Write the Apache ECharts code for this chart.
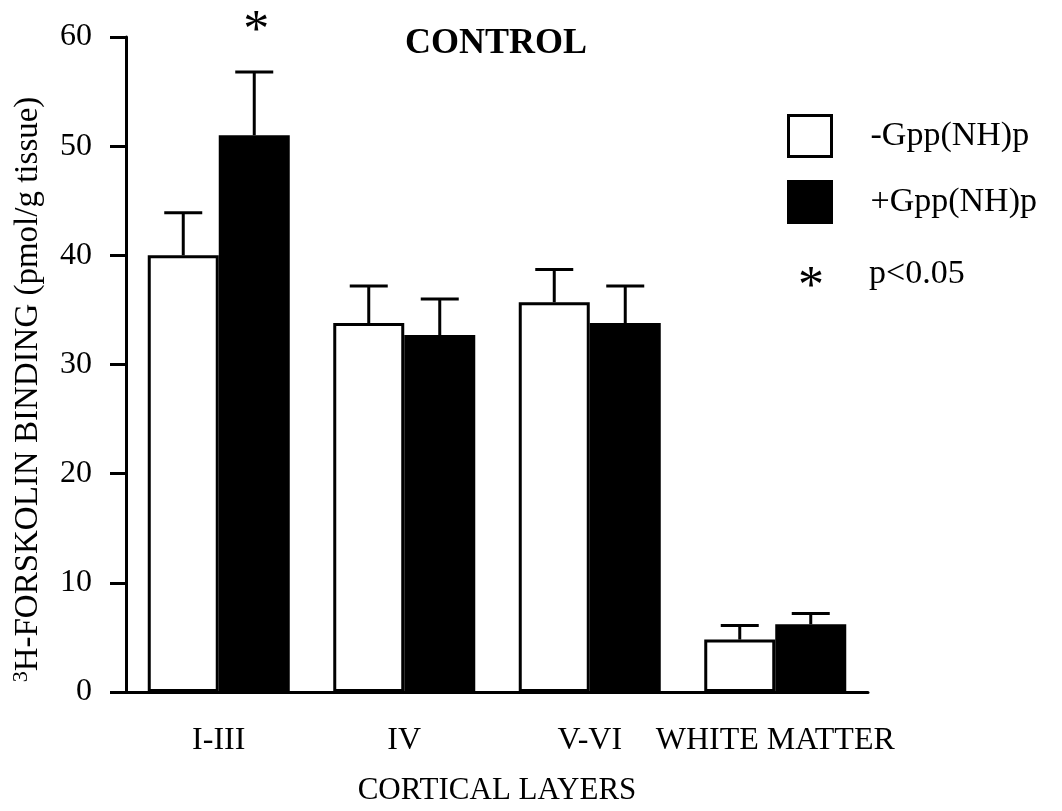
<!DOCTYPE html>
<html>
<head>
<meta charset="utf-8">
<script src="https://cdn.jsdelivr.net/npm/echarts@6/dist/echarts.min.js"></script>
<style>
  html, body { margin: 0; padding: 0; background: #fff; }
  #chart { width: 1062px; height: 811px; }
</style>
</head>
<body>
<div id="chart"></div>
<script>
// ---- data ----
const categories = ['I-III', 'IV', 'V-VI', 'WHITE MATTER'];
const seriesNames = ['-Gpp(NH)p', '+Gpp(NH)p'];
const minusGpp = [40.0, 33.8, 35.7, 4.8];     // -Gpp(NH)p means
const minusGppSem = [3.9, 3.4, 3.0, 1.3];     // upper error bar length
const plusGpp = [51.0, 32.7, 33.8, 6.2];      // +Gpp(NH)p means
const plusGppSem = [5.8, 3.3, 3.4, 1.0];
const plusGppSig = ['*', '', '', ''];         // significance marks
const yTicks = [0, 10, 20, 30, 40, 50, 60];

const FONT = "'Liberation Serif', 'Times New Roman', serif";
const BAR_W = 71;

function errSeries(vals, sems, sig, sign) {
  const marks = vals.map((v, i) => sig ? sig[i] : '');
  return {
    type: 'custom',
    name: 'err' + sign,
    data: vals.map((v, i) => [i, v, sems[i]]),
    z: 5,
    silent: true,
    clip: false,
    renderItem: function (params, api) {
      const i = api.value(0), v = api.value(1), e = api.value(2);
      const base = api.coord([i, v]);
      const top = api.coord([i, v + e]);
      const cx = base[0] + sign * BAR_W / 2;
      const st = { stroke: '#000', lineWidth: 3 };
      const children = [
        { type: 'line', shape: { x1: cx, y1: base[1], x2: cx, y2: top[1] }, style: st },
        { type: 'line', shape: { x1: cx - 19, y1: top[1], x2: cx + 19, y2: top[1] }, style: st }
      ];
      const mark = marks[params.dataIndex];
      if (mark) {
        children.push({
          type: 'text',
          style: {
            text: mark, x: cx + 2, y: top[1] - 40,
            fill: '#000', font: "52px " + FONT,
            textAlign: 'center', textVerticalAlign: 'middle'
          }
        });
      }
      return { type: 'group', children: children };
    }
  };
}

const chart = echarts.init(document.getElementById('chart'), null, { renderer: 'canvas' });
chart.setOption({
  animation: false,
  backgroundColor: '#fff',
  title: {
    text: 'CONTROL',
    left: 400,
    top: 21,
    textStyle: { fontFamily: FONT, fontSize: 36, fontWeight: 'bold', color: '#000' }
  },
  legend: {
    orient: 'vertical',
    left: 787,
    top: 114,
    padding: 0,
    itemWidth: 43,
    itemHeight: 41,
    itemGap: 22,
    icon: 'rect',
    textStyle: { fontFamily: FONT, fontSize: 34, color: '#000', padding: [0, 0, 0, 34] },
    data: [
      { name: seriesNames[0], itemStyle: { color: '#fff', borderColor: '#000', borderWidth: 3 } },
      { name: seriesNames[1], itemStyle: { color: '#000', borderColor: '#000', borderWidth: 3 } }
    ]
  },
  graphic: [
    { type: 'text', left: 798, top: 262, style: { text: '*', font: "52px " + FONT, fill: '#000' } },
    { type: 'text', left: 869, top: 257, style: { text: 'p<0.05', font: "34px " + FONT, fill: '#000' } }
  ],
  grid: { left: 126, right: 194, top: 37, bottom: 118, containLabel: false },
  xAxis: {
    type: 'category',
    data: categories,
    name: 'CORTICAL LAYERS',
    nameLocation: 'middle',
    nameGap: 83,
    nameTextStyle: { fontFamily: FONT, fontSize: 31, color: '#000' },
    axisLine: { lineStyle: { color: '#000', width: 3 } },
    axisTick: { alignWithLabel: true, length: 16, lineStyle: { color: '#000', width: 3 } },
    axisLabel: { fontFamily: FONT, fontSize: 32, color: '#000', margin: 33, interval: 0 }
  },
  yAxis: {
    type: 'value',
    min: yTicks[0],
    max: yTicks[yTicks.length - 1],
    interval: 10,
    name: '{sup|3}H-FORSKOLIN BINDING (pmol/g tissue)',
    nameLocation: 'middle',
    nameRotate: 90,
    nameGap: 80,
    nameTextStyle: {
      fontFamily: FONT, fontSize: 33, color: '#000',
      padding: [0, 50, 0, 0],
      rich: { sup: { fontFamily: FONT, fontSize: 22, color: '#000', verticalAlign: 'top', padding: [0, 0, 14, 0] } }
    },
    axisLine: { show: true, lineStyle: { color: '#000', width: 3 } },
    axisTick: { show: true, length: 16, lineStyle: { color: '#000', width: 3 } },
    axisLabel: { fontFamily: FONT, fontSize: 32, color: '#000', margin: 34 },
    splitLine: { show: false }
  },
  series: [
    {
      type: 'bar', name: seriesNames[0], data: minusGpp,
      barWidth: BAR_W, barGap: '0%',
      itemStyle: { color: '#fff', borderColor: '#000', borderWidth: 3 }
    },
    {
      type: 'bar', name: seriesNames[1], data: plusGpp,
      barWidth: BAR_W, barGap: '0%',
      itemStyle: { color: '#000', borderColor: '#000', borderWidth: 3 }
    },
    errSeries(minusGpp, minusGppSem, null, -1),
    errSeries(plusGpp, plusGppSem, plusGppSig, 1)
  ]
});
</script>
</body>
</html>
